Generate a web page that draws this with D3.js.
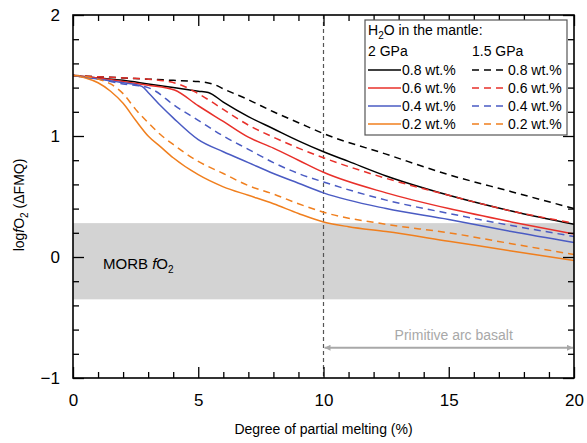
<!DOCTYPE html>
<html>
<head>
<meta charset="utf-8">
<script src="https://cdnjs.cloudflare.com/ajax/libs/d3/7.8.5/d3.min.js"></script>
<style>
  body { margin: 0; background: #fff; }
  svg text { font-family: "Liberation Sans", Arial, sans-serif; }
</style>
</head>
<body>
<div id="chart"></div>
<script>
// melting degree (%) vs logfO2 (dFMQ)
var black2GPa = [[0,1.5],[1,1.48],[2,1.46],[3,1.43],[4,1.40],[5,1.37],[5.4,1.36],[6,1.28],[7,1.16],[8,1.06],[9,0.96],[10,0.87],[11,0.79],[12.5,0.67],[14,0.57],[15,0.51],[17.5,0.38],[20,0.27]];
var black15GPa = [[0,1.5],[1,1.49],[2,1.48],[3,1.47],[4,1.46],[5,1.45],[5.7,1.42],[6,1.39],[7,1.30],[8,1.20],[9,1.11],[10,1.02],[12.5,0.85],[15,0.68],[17.5,0.54],[20,0.40]];
var red2GPa = [[0,1.5],[1,1.48],[2,1.45],[3,1.42],[4.05,1.38],[5,1.25],[6,1.12],[7,0.99],[8,0.90],[9,0.80],[10,0.70],[12.5,0.53],[15,0.40],[17.5,0.29],[20,0.19]];
var red15GPa = [[0,1.5],[1,1.49],[2,1.48],[3,1.47],[4.2,1.43],[5,1.35],[6,1.22],[7,1.09],[8,0.99],[9,0.90],[10,0.82],[12.5,0.65],[15,0.51],[17.5,0.38],[20,0.28]];
var blue2GPa = [[0,1.5],[1,1.47],[2,1.44],[2.75,1.41],[3,1.36],[3.5,1.25],[4,1.15],[5,0.97],[6,0.87],[7,0.78],[8,0.69],[9,0.61],[10,0.53],[12.5,0.40],[15,0.31],[17.5,0.21],[20,0.12]];
var blue15GPa = [[0,1.5],[1,1.47],[2,1.43],[3,1.40],[3.3,1.37],[4,1.26],[5,1.13],[6,1.00],[7,0.89],[8,0.78],[9,0.69],[10,0.62],[12.5,0.47],[15,0.36],[17.5,0.26],[20,0.17]];
var orange2GPa = [[0,1.5],[0.5,1.48],[1,1.44],[1.5,1.37],[2,1.27],[2.5,1.13],[3,1.00],[3.5,0.91],[4,0.82],[5,0.68],[6,0.58],[7,0.51],[8,0.44],[9,0.36],[10,0.29],[11,0.25],[12.5,0.21],[15,0.13],[17.5,0.05],[20,-0.03]];
var orange15GPa = [[0,1.5],[1,1.47],[1.5,1.43],[2,1.35],[2.5,1.22],[3,1.11],[3.5,1.01],[4,0.93],[5,0.79],[6,0.69],[7,0.59],[8,0.52],[9,0.44],[10,0.37],[12.5,0.27],[15,0.20],[17.5,0.11],[20,0.02]];

var waterLabels = ["0.8 wt.%", "0.6 wt.%", "0.4 wt.%", "0.2 wt.%"];
var colors = ["#000000", "#e8302a", "#4a5bc3", "#f07f1e"];
var solidSeries = [black2GPa, red2GPa, blue2GPa, orange2GPa];
var dashedSeries = [black15GPa, red15GPa, blue15GPa, orange15GPa];

var xMajor = [0, 5, 10, 15, 20];
var yMajor = [-1, 0, 1, 2];
var morbRange = [-0.35, 0.28];
var arcBasaltRange = [10, 20];
var arcArrowY = -0.75;

var svgWidth = 587, svgHeight = 443;
var margin = {top: 15, right: 13, bottom: 65, left: 73};
var width = svgWidth - margin.left - margin.right,
    height = svgHeight - margin.top - margin.bottom;

var svg = d3.select("#chart").append("svg")
    .attr("width", svgWidth)
    .attr("height", svgHeight);

var defs = svg.append("defs");
defs.append("clipPath").attr("id", "clip")
  .append("rect").attr("width", width).attr("height", height);
["start", "end"].forEach(function(k) {
    defs.append("marker")
        .attr("id", "arrow-" + k)
        .attr("viewBox", "0 0 10 10")
        .attr("refX", k == "end" ? 10 : 0).attr("refY", 5)
        .attr("markerWidth", 10).attr("markerHeight", 6)
        .attr("markerUnits", "userSpaceOnUse")
        .attr("orient", "auto")
      .append("path")
        .attr("d", k == "end" ? "M0,0 L10,5 L0,10 Z" : "M10,0 L0,5 L10,10 Z")
        .attr("fill", "#a8a8a8");
});

var g = svg.append("g").attr("transform", "translate(" + margin.left + "," + margin.top + ")");

var x = d3.scaleLinear().domain([0, 20]).range([0, width]);
var y = d3.scaleLinear().domain([-1, 2]).range([height, 0]);

// MORB band
g.append("rect")
    .attr("x", 0).attr("width", width)
    .attr("y", y(morbRange[1]))
    .attr("height", y(morbRange[0]) - y(morbRange[1]))
    .attr("fill", "#d3d3d3");

g.append("text")
    .attr("x", 30).attr("y", y(-0.1))
    .attr("font-size", 15)
    .html('MORB <tspan font-style="italic">f</tspan>O<tspan font-size="10" dy="4">2</tspan>');

// 10% line
g.append("line")
    .attr("x1", x(10)).attr("x2", x(10))
    .attr("y1", 0).attr("y2", height)
    .attr("stroke", "#555").attr("stroke-width", 1.2)
    .attr("stroke-dasharray", "4,3");

// primitive arc basalt arrow
g.append("line")
    .attr("x1", x(arcBasaltRange[0]) + 1).attr("x2", x(arcBasaltRange[1]) - 1)
    .attr("y1", y(arcArrowY)).attr("y2", y(arcArrowY))
    .attr("stroke", "#a8a8a8").attr("stroke-width", 2)
    .attr("marker-start", "url(#arrow-start)")
    .attr("marker-end", "url(#arrow-end)");
g.append("text")
    .attr("x", (x(arcBasaltRange[0]) + x(arcBasaltRange[1])) / 2 + 5)
    .attr("y", y(arcArrowY) - 8)
    .attr("text-anchor", "middle")
    .attr("font-size", 14)
    .attr("fill", "#a8a8a8")
    .text("Primitive arc basalt");

// curves
var line = d3.line()
    .curve(d3.curveMonotoneX)
    .x(function(d) { return x(d[0]); })
    .y(function(d) { return y(d[1]); });

var curves = g.append("g").attr("clip-path", "url(#clip)");
solidSeries.forEach(function(s, i) {
    curves.append("path").datum(s)
        .attr("d", line)
        .attr("fill", "none")
        .attr("stroke", colors[i])
        .attr("stroke-width", 1.5);
});
dashedSeries.forEach(function(s, i) {
    curves.append("path").datum(s)
        .attr("d", line)
        .attr("fill", "none")
        .attr("stroke", colors[i])
        .attr("stroke-width", 1.5)
        .attr("stroke-dasharray", "7,5");
});

// axes with inward ticks on all four sides
var xMinor = d3.range(0, 21, 1).filter(function(v) { return v % 5 != 0; });
var yMinor = d3.range(-10, 21, 2).map(function(v) { return v / 10; }).filter(function(v) { return Math.abs(v - Math.round(v)) > 1e-6; });

function styleAxis(sel) {
    sel.select(".domain").remove();
    sel.selectAll("line").attr("stroke", "#000").attr("stroke-width", 1.3);
    sel.selectAll("text").attr("font-size", 17).attr("fill", "#000")
        .attr("font-family", "Liberation Sans, Arial, sans-serif");
}

g.append("g").attr("transform", "translate(0," + height + ")")
    .call(d3.axisBottom(x).tickValues(xMajor).tickSize(-11).tickPadding(16).tickFormat(d3.format("d")))
    .call(styleAxis);
g.append("g").attr("transform", "translate(0," + height + ")")
    .call(d3.axisBottom(x).tickValues(xMinor).tickSize(-6).tickFormat(""))
    .call(styleAxis);
g.append("g")
    .call(d3.axisTop(x).tickValues(xMajor).tickSize(-11).tickFormat(""))
    .call(styleAxis);
g.append("g")
    .call(d3.axisTop(x).tickValues(xMinor).tickSize(-6).tickFormat(""))
    .call(styleAxis);

g.append("g")
    .call(d3.axisLeft(y).tickValues(yMajor).tickSize(-11).tickPadding(13).tickFormat(d3.format("d")))
    .call(styleAxis);
g.append("g")
    .call(d3.axisLeft(y).tickValues(yMinor).tickSize(-6).tickFormat(""))
    .call(styleAxis);
g.append("g").attr("transform", "translate(" + width + ",0)")
    .call(d3.axisRight(y).tickValues(yMajor).tickSize(-11).tickFormat(""))
    .call(styleAxis);
g.append("g").attr("transform", "translate(" + width + ",0)")
    .call(d3.axisRight(y).tickValues(yMinor).tickSize(-6).tickFormat(""))
    .call(styleAxis);

g.append("rect")
    .attr("width", width).attr("height", height)
    .attr("fill", "none").attr("stroke", "#000").attr("stroke-width", 1.6);

// axis titles
svg.append("text")
    .attr("x", margin.left + width / 2).attr("y", 434)
    .attr("text-anchor", "middle")
    .attr("font-size", 14)
    .text("Degree of partial melting (%)");

svg.append("text")
    .attr("transform", "translate(24,205) rotate(-90)")
    .attr("text-anchor", "middle")
    .attr("font-size", 14)
    .html('log<tspan font-style="italic">f</tspan>O<tspan font-size="10" dy="4">2</tspan><tspan dy="-4"> (ΔFMQ)</tspan>');

// legend
var legend = svg.append("g").attr("transform", "translate(365,20)");
legend.append("rect")
    .attr("width", 202).attr("height", 115)
    .attr("fill", "#fff").attr("stroke", "#555").attr("stroke-width", 1.2);
legend.append("text").attr("x", 3).attr("y", 15).attr("font-size", 14)
    .html('H<tspan font-size="10" dy="4">2</tspan><tspan dy="-4">O in the mantle:</tspan>');
legend.append("text").attr("x", 3).attr("y", 36).attr("font-size", 14).text("2 GPa");
legend.append("text").attr("x", 107).attr("y", 36).attr("font-size", 14).text("1.5 GPa");

waterLabels.forEach(function(lbl, i) {
    var ly = 50 + i * 18;
    legend.append("line")
        .attr("x1", 3).attr("x2", 36).attr("y1", ly).attr("y2", ly)
        .attr("stroke", colors[i]).attr("stroke-width", 1.5);
    legend.append("text").attr("x", 37).attr("y", ly + 5).attr("font-size", 14).text(lbl);
    legend.append("line")
        .attr("x1", 107).attr("x2", 142).attr("y1", ly).attr("y2", ly)
        .attr("stroke", colors[i]).attr("stroke-width", 1.5)
        .attr("stroke-dasharray", "7,5");
    legend.append("text").attr("x", 143).attr("y", ly + 5).attr("font-size", 14).text(lbl);
});
</script>
</body>
</html>
